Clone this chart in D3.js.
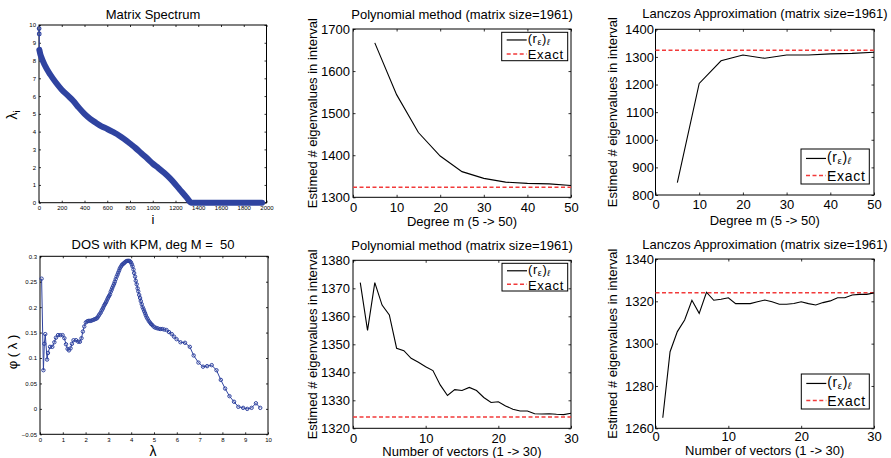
<!DOCTYPE html>
<html><head><meta charset="utf-8">
<script src="https://cdn.jsdelivr.net/npm/d3@7"></script>
<style>
body{margin:0;background:#fff}
svg{display:block}
text{font-family:"Liberation Sans",Arial,Helvetica,sans-serif;fill:#000;white-space:pre}
</style>
</head><body><svg id="c" width="891" height="458"></svg>
<script>
// ---------- DATA ----------
const specIndex = [1,2,3,10,20,50,100,150,200,250,300,350,400,450,500,550,600,650,700,750,800,850,900,950,1000,1050,1100,1150,1200,1250,1300,1340,1500,1700,1961];
const specValue = [9.8,9.5,8.6,8.4,8.2,7.75,7.2,6.75,6.36,6.05,5.74,5.35,5.0,4.72,4.5,4.3,4.15,3.98,3.8,3.58,3.33,3.07,2.78,2.5,2.2,1.95,1.68,1.38,1.03,0.65,0.28,0,0,0,0];

const dosLambda = [0.07,0.15,0.19,0.23,0.31,0.35,0.44,0.54,0.63,0.70,0.79,0.89,0.99,1.07,1.14,1.21,1.27,1.34,1.40,1.47,1.58,1.68,1.75,1.82,1.88,1.94,2.01,2.07,2.12,2.17,2.22,2.28,2.34,2.39,2.44,2.49,2.53,2.57,2.61,2.66,2.70,2.74,2.77,2.81,2.85,2.89,2.92,2.96,2.99,3.03,3.07,3.10,3.14,3.17,3.21,3.25,3.28,3.32,3.36,3.40,3.43,3.47,3.50,3.54,3.58,3.61,3.65,3.69,3.72,3.77,3.82,3.87,3.91,3.95,3.99,4.03,4.06,4.10,4.13,4.17,4.20,4.24,4.28,4.31,4.35,4.39,4.42,4.46,4.50,4.54,4.57,4.61,4.64,4.68,4.72,4.77,4.82,4.87,4.92,4.98,5.04,5.11,5.18,5.27,5.36,5.45,5.55,5.66,5.78,5.88,5.99,6.16,6.36,6.57,6.74,6.95,7.15,7.33,7.53,7.74,7.93,8.12,8.31,8.51,8.70,8.91,9.09,9.28,9.47,9.66];
const dosPhi = [0.256,0.076,0.128,0.147,0.097,0.110,0.122,0.122,0.131,0.140,0.145,0.145,0.145,0.139,0.127,0.118,0.115,0.119,0.128,0.135,0.135,0.132,0.132,0.139,0.152,0.162,0.170,0.172,0.173,0.173,0.173,0.174,0.175,0.176,0.177,0.178,0.180,0.183,0.186,0.189,0.193,0.196,0.199,0.203,0.206,0.209,0.212,0.216,0.219,0.222,0.225,0.230,0.234,0.238,0.242,0.246,0.250,0.255,0.260,0.264,0.268,0.272,0.276,0.279,0.282,0.284,0.285,0.287,0.288,0.290,0.291,0.291,0.291,0.290,0.288,0.284,0.280,0.274,0.267,0.260,0.252,0.245,0.237,0.231,0.224,0.218,0.212,0.206,0.200,0.196,0.192,0.188,0.184,0.180,0.177,0.173,0.170,0.167,0.165,0.162,0.160,0.159,0.158,0.157,0.157,0.156,0.155,0.151,0.147,0.142,0.137,0.131,0.130,0.122,0.105,0.091,0.083,0.084,0.086,0.076,0.057,0.040,0.025,0.014,0.004,0.002,0.000,0.002,0.011,0.002];

const degreeM = [5,10,15,20,25,30,35,40,45,50];
const polyDegreeEst = [1667,1544,1454,1398,1361,1345,1336,1333,1332,1328];
const lanczosDegreeEst = [845,1204,1286,1307,1295,1307,1307,1311,1313,1317];

const numVectors = [1,2,3,4,5,6,7,8,9,10,11,12,13,14,15,16,17,18,19,20,21,22,23,24,25,26,27,28,29,30];
const polyVectorEst = [1372,1355,1372,1364,1360.5,1348.6,1347.7,1345,1343.6,1342,1340.6,1335.5,1331.7,1333.8,1333.5,1334.6,1333.5,1331,1329.2,1329.5,1328,1326.8,1326.2,1326.2,1325.2,1325.1,1325.2,1325,1324.9,1325.4];
const lanczosVectorEst = [1265,1296.2,1305.7,1311.2,1320.5,1314.3,1324.3,1320.5,1321,1321.7,1318.9,1318.9,1318.9,1319.8,1320.6,1319.8,1318.6,1318.6,1319,1319.8,1318.9,1318.3,1319.4,1320.2,1321.7,1321.7,1323,1323.3,1323.3,1324];
const exactCount = 1324;

const specXTicks = [0,200,400,600,800,1000,1200,1400,1600,1800,2000];
const specYTicks = [0,1,2,3,4,5,6,7,8,9,10];
const dosXTicks = [0,1,2,3,4,5,6,7,8,9,10];
const dosYTicks = [-0.05,0,0.05,0.1,0.15,0.2,0.25,0.3];
const degreeTicks = [0,10,20,30,40,50];
const polyDegYTicks = [1300,1400,1500,1600,1700];
const lancDegYTicks = [800,900,1000,1100,1200,1300,1400];
const vectorTicks = [0,10,20,30];
const polyVecYTicks = [1320,1330,1340,1350,1360,1370,1380];
const lancVecYTicks = [1260,1280,1300,1320,1340];

// ---------- DRAW ----------
const svg = d3.select("#c");
const BLUE = "#2f43a0", RED = "#f23a3a";

function panel(o){
  const x = d3.scaleLinear().domain(o.xd).range([o.x0,o.x1]);
  const y = d3.scaleLinear().domain(o.yd).range([o.y1,o.y0]);
  const g = svg.append("g");
  const tl = o.tick || 2.5;
  const fmt = o.fmt || (d=>String(d));
  g.append("g").attr("transform",`translate(0,${o.y1})`)
    .call(d3.axisBottom(x).tickValues(o.xt).tickSizeInner(-tl).tickSizeOuter(0).tickPadding(o.xpad).tickFormat(fmt));
  g.append("g").attr("transform",`translate(${o.x0},0)`)
    .call(d3.axisLeft(y).tickValues(o.yt).tickSizeInner(-tl).tickSizeOuter(0).tickPadding(o.ypad).tickFormat(o.yfmt||fmt));
  g.append("g").attr("transform",`translate(0,${o.y0})`)
    .call(d3.axisTop(x).tickValues(o.xt).tickSizeInner(-tl).tickSizeOuter(0).tickFormat(""));
  g.append("g").attr("transform",`translate(${o.x1},0)`)
    .call(d3.axisRight(y).tickValues(o.yt).tickSizeInner(-tl).tickSizeOuter(0).tickFormat(""));
  g.selectAll(".domain").remove();
  g.selectAll(".tick line").attr("stroke","#000").attr("stroke-width",0.8);
  g.selectAll(".tick text").attr("font-size",o.fs).attr("fill",o.tc||"#000")
    .attr("font-family",'"Liberation Sans",Arial,sans-serif');
  g.append("rect").attr("x",o.x0).attr("y",o.y0).attr("width",o.x1-o.x0).attr("height",o.y1-o.y0)
    .attr("fill","none").attr("stroke","#000").attr("stroke-width",1);
  svg.append("text").attr("x",o.tx).attr("y",o.ty).attr("text-anchor","middle").attr("font-size",13).text(o.title);
  return {x,y,g};
}

// Panel 1: Matrix Spectrum
{
  const p = panel({x0:39,x1:266.5,y0:25,y1:202.7,xd:[0,2000],yd:[0,10],xt:specXTicks,yt:specYTicks,
    fs:6,tc:"#333",xpad:3,ypad:3,tick:2,title:"Matrix Spectrum",tx:153,ty:19});
  const pts = specIndex.map((d,i)=>[d,specValue[i]]);
  const line = d3.line().x(d=>p.x(d[0])).y(d=>p.y(d[1])).curve(d3.curveMonotoneX);
  p.g.append("path").attr("d",line(pts.slice(2))).attr("fill","none").attr("stroke",BLUE).attr("stroke-width",6).attr("stroke-linecap","round");
  p.g.append("path").attr("d",d3.line().x(d=>p.x(d[0])).y(d=>p.y(d[1]))(pts.slice(0,4))).attr("fill","none").attr("stroke",BLUE).attr("stroke-width",1);
  p.g.selectAll("circle.s").data(pts.slice(0,3)).enter().append("circle")
    .attr("cx",d=>p.x(d[0])).attr("cy",d=>p.y(d[1])).attr("r",1.8).attr("fill","none").attr("stroke",BLUE).attr("stroke-width",1.2);
  svg.append("text").attr("transform","translate(17,115) rotate(-90)").attr("text-anchor","middle").attr("font-size",14)
    .html('λ<tspan font-size="9" dy="3">i</tspan>');
  svg.append("text").attr("x",153).attr("y",224).attr("text-anchor","middle").attr("font-size",13).text("i");
}

// Panel 2: DOS
{
  const p = panel({x0:40,x1:268,y0:256.3,y1:434.3,xd:[0,10],yd:[-0.05,0.3],xt:dosXTicks,yt:dosYTicks,
    fs:6,tc:"#333",xpad:3,ypad:3,tick:2,title:"DOS with KPM, deg M =  50",tx:153,ty:249,
    yfmt:d=>d<0?"\u2212"+String(-d):String(d)});
  const pts = dosLambda.map((d,i)=>[d,dosPhi[i]]);
  p.g.append("path").attr("d",d3.line().x(d=>p.x(d[0])).y(d=>p.y(d[1]))(pts)).attr("fill","none").attr("stroke",BLUE).attr("stroke-width",1);
  p.g.selectAll("circle.d").data(pts).enter().append("circle")
    .attr("cx",d=>p.x(d[0])).attr("cy",d=>p.y(d[1])).attr("r",1.7).attr("fill","none").attr("stroke",BLUE).attr("stroke-width",1);
  svg.append("text").attr("transform","translate(17,352) rotate(-90)").attr("text-anchor","middle").attr("font-size",13).text("φ ( λ )");
  svg.append("text").attr("x",153).attr("y",456).attr("text-anchor","middle").attr("font-size",14).text("λ");
}

function legend(bx,by,bw,bh,fs){
  const g = svg.append("g");
  g.append("rect").attr("x",bx).attr("y",by).attr("width",bw).attr("height",bh).attr("fill","#fff").attr("stroke","#000").attr("stroke-width",1);
  const r1 = by+bh*0.27, r2 = by+bh*0.76;
  const sub = fs*0.68;
  g.append("line").attr("x1",bx+5).attr("x2",bx+25).attr("y1",r1).attr("y2",r1).attr("stroke","#000").attr("stroke-width",1.2);
  g.append("line").attr("x1",bx+5).attr("x2",bx+25).attr("y1",r2).attr("y2",r2).attr("stroke",RED).attr("stroke-width",1.5).attr("stroke-dasharray","4,2.5");
  g.append("text").attr("x",bx+26).attr("y",r1+3.5).attr("font-size",fs).attr("letter-spacing",0.6)
    .html(`(r<tspan font-size="${sub}" dy="2">ε</tspan><tspan dy="-2">)</tspan><tspan font-size="${sub}" dy="2" font-style="italic">ℓ</tspan>`);
  g.append("text").attr("x",bx+26).attr("y",r2+5.5).attr("font-size",fs).attr("letter-spacing",0.7).text("Exact");
}

function convPanel(o, xs, ys){
  const p = panel(Object.assign({fs:13,xpad:5,ypad:3,tick:2.5},o));
  p.g.append("line").attr("x1",o.x0).attr("x2",o.x1).attr("y1",p.y(exactCount)).attr("y2",p.y(exactCount))
    .attr("stroke",RED).attr("stroke-width",1.5).attr("stroke-dasharray","4,2.5");
  p.g.append("path").attr("d",d3.line().x((d,i)=>p.x(xs[i])).y(d=>p.y(d))(ys)).attr("fill","none").attr("stroke","#000").attr("stroke-width",1.1);
  svg.append("text").attr("transform",`translate(${o.ylx},${(o.y0+o.y1)/2}) rotate(-90)`).attr("text-anchor","middle").attr("font-size",13)
    .text("Estimed # eigenvalues in interval");
  svg.append("text").attr("x",(o.x0+o.x1)/2).attr("y",o.xly).attr("text-anchor","middle").attr("font-size",13).text(o.xlabel);
  legend(...o.leg);
  return p;
}

convPanel({x0:353,x1:571,y0:29,y1:197.3,xd:[0,50],yd:[1300,1700],xt:degreeTicks,yt:polyDegYTicks,
  title:"Polynomial method (matrix size=1961)",tx:462,ty:19,ylx:317,xly:226,xlabel:"Degree m (5 -> 50)",
  leg:[501.7,32.3,66,28.4,13]}, degreeM, polyDegreeEst);
convPanel({x0:353,x1:571,y0:260.3,y1:428.3,xd:[0,30],yd:[1320,1380],xt:vectorTicks,yt:polyVecYTicks,
  title:"Polynomial method (matrix size=1961)",tx:462,ty:250,ylx:317,xly:456,xlabel:"Number of vectors (1 -> 30)",
  leg:[502,263.3,65.7,27.7,13]}, numVectors, polyVectorEst);
convPanel({x0:655.5,x1:874,y0:29.3,y1:195,xd:[0,50],yd:[800,1400],xt:degreeTicks,yt:lancDegYTicks,ypad:1.5,
  title:"Lanczos Approximation (matrix size=1961)",tx:765,ty:18,ylx:617,xly:225,xlabel:"Degree m (5 -> 50)",
  leg:[801,149,68.3,35,14]}, degreeM, lanczosDegreeEst);
convPanel({x0:655.5,x1:874,y0:259,y1:428.3,xd:[0,30],yd:[1260,1340],xt:vectorTicks,yt:lancVecYTicks,ypad:1.5,xpad:3,
  title:"Lanczos Approximation (matrix size=1961)",tx:765,ty:249,ylx:617,xly:455,xlabel:"Number of vectors (1 -> 30)",
  leg:[801.3,374,68,35,14]}, numVectors, lanczosVectorEst);
</script>
</body></html>
